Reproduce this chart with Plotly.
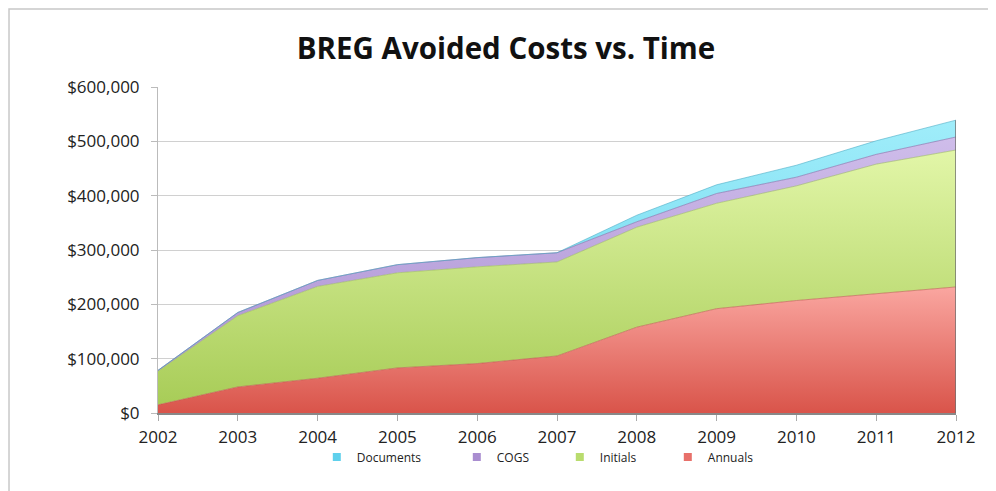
import plotly.graph_objects as go

years = [2002, 2003, 2004, 2005, 2006, 2007, 2008, 2009, 2010, 2011, 2012]

annuals   = [15000, 48000, 64000, 83000, 91000, 105000, 158000, 192000, 207000, 220000, 232000]
initials  = [62000, 131000, 169000, 175000, 178000, 173000, 184000, 194000, 211000, 238000, 252000]
cogs      = [1500, 6000, 11000, 15000, 17000, 17000, 10000, 18000, 16000, 18000, 24000]
documents = [0, 0, 0, 0, 0, 0, 12000, 16000, 22000, 25000, 31000]

y_ticks = [0, 100000, 200000, 300000, 400000, 500000, 600000]

# name, values, gradient bottom, gradient top, edge colour, legend colour, legend width
SERIES = [
    ("Annuals",   annuals,   "#D9544A", "#FAA6A0", "#C0504D", "#E8706A", 60),
    ("Initials",  initials,  "#A6CB55", "#E2F6A8", "#9BBB59", "#B9DC6E", 63),
    ("COGS",      cogs,      "#A68BCF", "#CFBDEA", "#8064A2", "#A98DD0", 58),
    ("Documents", documents, "#63D2EC", "#A0EDFA", "#4BACC6", "#5FD0EC", 95),
]

fig = go.Figure()

running = [0] * len(years)
for name, vals, c0, c1, edge, _, _ in SERIES:
    running = [a + b for a, b in zip(running, vals)]
    fig.add_trace(go.Scatter(
        x=years, y=vals,
        stackgroup="one",
        mode="lines",
        line=dict(color=edge, width=0.6),
        fillgradient=dict(
            type="vertical",
            colorscale=[[0, c0], [1, c1]],
            start=0, stop=max(running),
        ),
        showlegend=False,
        hoverinfo="skip",
    ))

# dark edge on the right end of the stack
fig.add_trace(go.Scatter(
    x=[years[-1], years[-1]], y=[0, running[-1]],
    mode="lines", line=dict(color="#707070", width=1.5),
    showlegend=False, hoverinfo="skip",
))

# legend entries (square swatches), in the reference order
for name, vals, c0, c1, edge, leg, lw in reversed(SERIES):
    fig.add_trace(go.Scatter(
        x=[None], y=[None], mode="markers", name=name,
        marker=dict(symbol="square", size=8, color=leg),
        legendwidth=lw,
    ))

# page body adds an 8px offset, so the figure is laid out 8px up/left
fig.update_layout(
    width=996, height=491,
    title=dict(
        text="<b>BREG Avoided Costs vs. Time</b>",
        x=0.5, xanchor="center", y=0.918, yanchor="middle",
        font=dict(family="Open Sans", size=29.5, color="#111"),
    ),
    font=dict(family="Open Sans", size=17, color="#222"),
    xaxis=dict(
        range=[2002, 2012],
        tickvals=years,
        showgrid=False,
        showline=True, linecolor="#888", linewidth=1.5,
        ticks="outside", ticklen=6, tickcolor="#AAA",
        ticklabelstandoff=2,
        zeroline=False, fixedrange=True,
    ),
    yaxis=dict(
        range=[0, 600000],
        tickvals=y_ticks,
        tickformat="$,.0f",
        showgrid=True, gridcolor="#D0D0D0", gridwidth=1,
        showline=True, linecolor="#BBBBBB", linewidth=1,
        ticks="outside", ticklen=6, tickcolor="#BBBBBB",
        ticklabelstandoff=8,
        zeroline=False, fixedrange=True,
    ),
    legend=dict(
        orientation="h",
        x=0.199, xanchor="left",
        y=-0.135, yanchor="middle",
        font=dict(family="Open Sans", size=12, color="#222"),
        traceorder="normal",
        itemwidth=30,
        bgcolor="rgba(0,0,0,0)",
    ),
    shapes=[dict(
        type="rect", xref="paper", yref="paper",
        x0=-0.1867, x1=1.2, y0=-0.4, y1=1.2393,
        line=dict(color="#C8C8C8", width=1.5),
        fillcolor="rgba(0,0,0,0)", layer="below",
    )],
    margin=dict(l=150, r=48, t=79, b=86),
    plot_bgcolor="white",
    paper_bgcolor="white",
)

fig.write_html("out.html")
